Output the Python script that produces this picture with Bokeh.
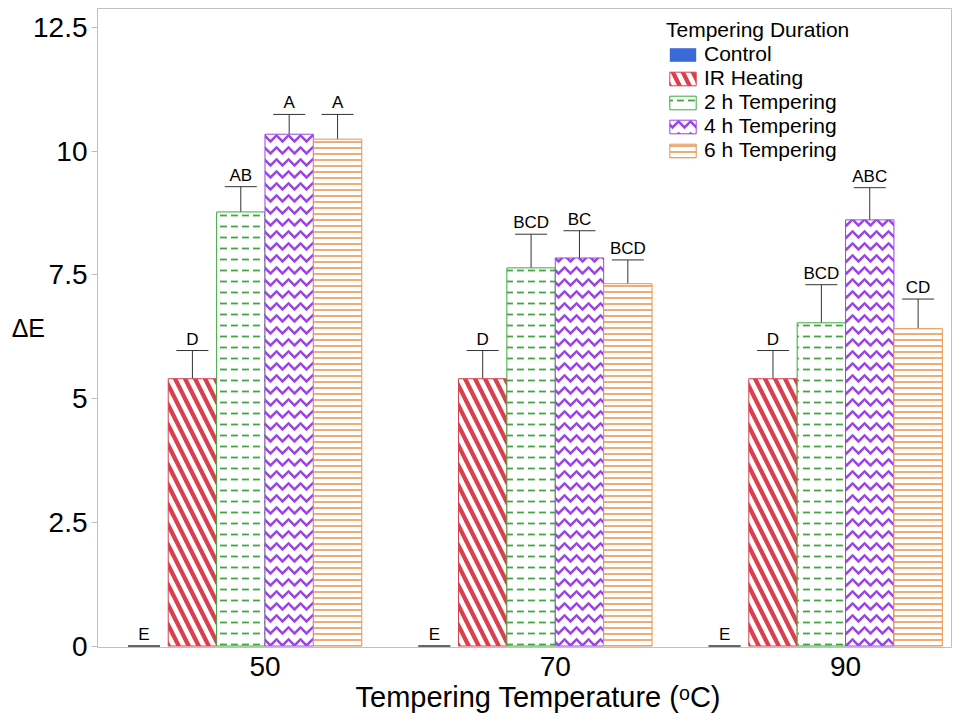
from bokeh.plotting import figure
from bokeh.models import ColumnDataSource, Whisker, TeeHead, FixedTicker, Range1d, Title
from bokeh.transform import dodge
from bokeh.core.properties import value
from bokeh.embed import file_html
from bokeh.resources import INLINE

temps = ["50", "70", "90"]
series = ["Control", "IR Heating", "2 h Tempering", "4 h Tempering", "6 h Tempering"]

control = [0.0, 0.0, 0.0]
control_err = [0.0, 0.0, 0.0]
control_lbl = ["E", "E", "E"]

ir = [5.40, 5.40, 5.40]
ir_err = [0.57, 0.57, 0.57]
ir_lbl = ["D", "D", "D"]

h2 = [8.77, 7.64, 6.53]
h2_err = [0.51, 0.68, 0.77]
h2_lbl = ["AB", "BCD", "BCD"]

h4 = [10.34, 7.84, 8.61]
h4_err = [0.40, 0.55, 0.65]
h4_lbl = ["A", "BC", "ABC"]

h6 = [10.24, 7.32, 6.41]
h6_err = [0.50, 0.48, 0.60]
h6_lbl = ["A", "BCD", "CD"]

y_ticks = [0, 2.5, 5, 7.5, 10, 12.5]
y_tick_labels = ["0", "2.5", "5", "7.5", "10", "12.5"]

x_title = "Tempering Temperature (\u1d52C)"
y_title = "\u0394E"
legend_title = "Tempering Duration"

FONT = "Liberation Sans"

data = dict(x=list(range(len(temps))))
for key, vals, errs, lbls in [("c", control, control_err, control_lbl),
                              ("ir", ir, ir_err, ir_lbl),
                              ("h2", h2, h2_err, h2_lbl),
                              ("h4", h4, h4_err, h4_lbl),
                              ("h6", h6, h6_err, h6_lbl)]:
    data[key] = vals
    data[key + "_hi"] = [v + e for v, e in zip(vals, errs)]
    data[key + "_lo"] = [v - e for v, e in zip(vals, errs)]
    data[key + "_lbl"] = lbls
src = ColumnDataSource(data)

p = figure(width=954, height=713, output_backend="svg", toolbar_location=None,
           x_range=Range1d(-0.577, 2.365), y_range=Range1d(-0.03, 12.88),
           min_border_left=97, min_border_top=8, min_border_right=3, min_border_bottom=66)

w = 1 / 6
styles = [
    ("c", series[0], -2.5 * w, dict(fill_color="#3b6ad8", line_color=None)),
    ("ir", series[1], -1.5 * w, dict(fill_color="white", line_color="#d8404e",
                                     hatch_pattern="left_diagonal_line", hatch_color="#d8404e",
                                     hatch_scale=20, hatch_weight=4.3)),
    ("h2", series[2], -0.5 * w, dict(fill_color="white", line_color="#3ea83e",
                                     hatch_pattern="horizontal_dash", hatch_color="#3ea83e",
                                     hatch_scale=11, hatch_weight=1.8)),
    ("h4", series[3], 0.5 * w, dict(fill_color="white", line_color="#9b45e4",
                                    hatch_pattern="horizontal_wave", hatch_color="#9b45e4",
                                    hatch_scale=12, hatch_weight=2.5)),
    ("h6", series[4], 1.5 * w, dict(fill_color="white", line_color="#e8914a",
                                    hatch_pattern="horizontal_line", hatch_color="#e8914a",
                                    hatch_scale=6, hatch_weight=1.5)),
]

for key, name, off, st in styles:
    p.vbar(x=dodge("x", off), top=key, width=w, bottom=0, source=src,
           line_width=1, legend_label=name, **st)

for key, name, off, st in styles:
    wk = Whisker(source=src, base=dodge("x", off), upper=key + "_hi", lower=key + "_lo",
                 line_color="#333333", line_width=1,
                 upper_head=TeeHead(size=32, line_color="#333333", line_width=1),
                 lower_head=TeeHead(size=32, line_color="#333333", line_width=1))
    p.add_layout(wk)
    p.text(x=dodge("x", off), y=key + "_hi", text=key + "_lbl", source=src,
           text_font=value(FONT), text_font_size="17px", text_color="black",
           text_align="center", text_baseline="bottom", y_offset=-2)

p.xgrid.visible = False
p.ygrid.visible = False
p.outline_line_color = "#c0c0c0"
p.outline_line_width = 1

p.xaxis.ticker = FixedTicker(ticks=data["x"])
p.xaxis.major_label_overrides = {i: t for i, t in enumerate(temps)}
p.xaxis.major_tick_line_color = None
p.xaxis.minor_tick_line_color = None
p.xaxis.axis_line_color = "#c0c0c0"
p.xaxis.major_label_standoff = 3

p.yaxis.ticker = FixedTicker(ticks=y_ticks)
p.yaxis.major_label_overrides = {t: l for t, l in zip(y_ticks, y_tick_labels)}
p.yaxis.minor_tick_line_color = None
p.yaxis.major_tick_line_color = "#c0c0c0"
p.yaxis.major_tick_out = 6
p.yaxis.major_tick_in = 0
p.yaxis.axis_line_color = "#c0c0c0"
p.yaxis.major_label_standoff = 4
p.yaxis.axis_label = y_title
p.yaxis.axis_label_orientation = "horizontal"
p.yaxis.axis_label_standoff = -15

for ax in (p.xaxis, p.yaxis):
    ax.major_label_text_font = FONT
    ax.major_label_text_font_size = "28px"
    ax.major_label_text_color = "black"
    ax.axis_label_text_font = FONT
    ax.axis_label_text_font_style = "normal"
    ax.axis_label_text_color = "black"
p.yaxis.axis_label_text_font_size = "25px"

xt = Title(text=x_title, align="left", offset=258, standoff=0,
           text_font=FONT, text_font_size="29px", text_font_style="normal",
           text_color="black")
p.add_layout(xt, "below")

lg = p.legend[0]
lg.title = legend_title
lg.title_text_font = FONT
lg.title_text_font_size = "21px"
lg.title_text_font_style = "normal"
lg.title_text_color = "black"
lg.title_standoff = 0
lg.label_text_font = FONT
lg.label_text_font_size = "21px"
lg.label_text_color = "black"
lg.glyph_width = 33
lg.glyph_height = 17
lg.label_standoff = 5
lg.spacing = 0
lg.padding = 0
lg.margin = 0
lg.label_height = 18
lg.border_line_color = None
lg.background_fill_alpha = 0
lg.location = (569, 485)

open("out.html", "w").write(file_html(p, INLINE))
